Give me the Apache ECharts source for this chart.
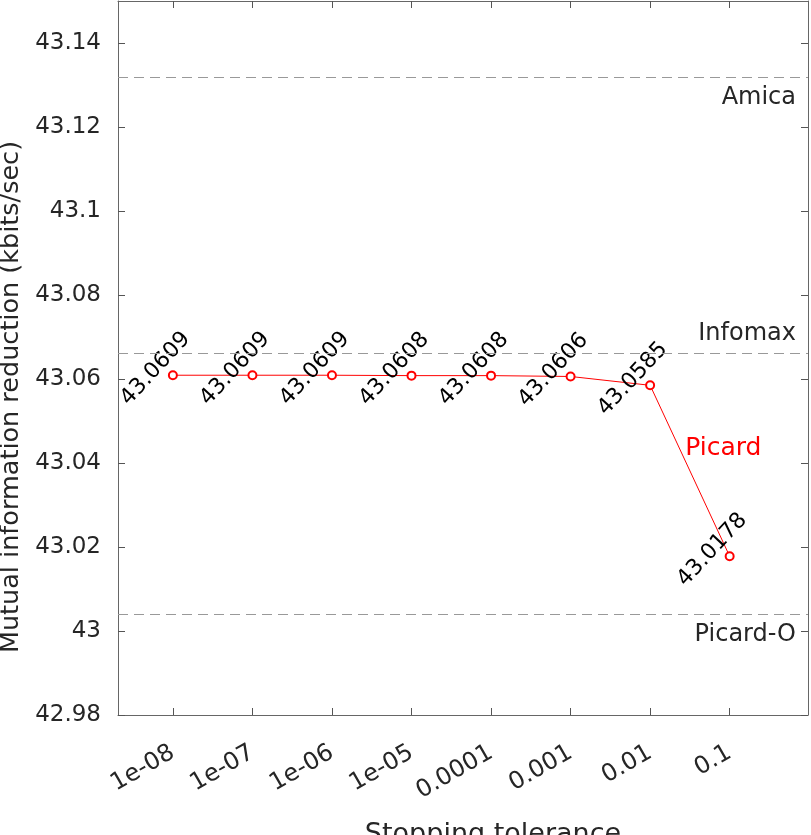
<!DOCTYPE html>
<html>
<head>
<meta charset="utf-8">
<script src="https://cdn.jsdelivr.net/npm/echarts@6/dist/echarts.min.js"></script>
<style>
  html, body { margin: 0; padding: 0; background: #fff; }
  #chart { width: 811px; height: 835px; }
</style>
</head>
<body>
<div id="chart"></div>
<script>
// data
var tolerances = [1e-8, 1e-7, 1e-6, 1e-5, 1e-4, 1e-3, 1e-2, 1e-1];
var tolLabels = ['1e-08', '1e-07', '1e-06', '1e-05', '0.0001', '0.001', '0.01', '0.1'];
var picardValues = [43.0609, 43.0609, 43.0609, 43.0608, 43.0608, 43.0606, 43.0585, 43.0178];
var yTicks = [42.98, 43, 43.02, 43.04, 43.06, 43.08, 43.1, 43.12, 43.14];
var refNames = ['Amica', 'Infomax', 'Picard-O'];
var refValues = [43.1318, 43.0661, 43.0039];
var picardNamePos = [-1.08, 43.0434];

(function(){
    var myChart = echarts.init(document.getElementById('chart'))
    var font = 'DejaVu Sans'
    var xTicks = tolerances.map(function(t){ return Math.log10(t) })
    var seriesData = tolerances.map(function(t, i){ return [Math.log10(t), picardValues[i]] })

    var axisLine = { show: true, lineStyle: { color: '#666', width: 1 } }
    var xBase = {
        type: 'value', min: -8.69, max: -0.015,
        axisLine: axisLine,
        splitLine: { show: false },
        axisTick: { show: true, inside: true, length: 7, customValues: xTicks, lineStyle: { color: '#555', width: 1 } }
    }
    var yBase = {
        type: 'value', min: 42.98, max: 43.15,
        axisLine: axisLine,
        splitLine: { show: false },
        axisTick: { show: true, inside: true, length: 7, customValues: yTicks, lineStyle: { color: '#555', width: 1 } }
    }

    // 参考线 (dashed)
    var refLines = refNames.map(function(n, i){
        return {
            name: n, yAxis: refValues[i],
            label: { position: i === 1 ? 'insideEndTop' : 'insideEndBottom' }
        }
    })

    var option = {
        animation: false,
        grid: { left: 118, top: 1, right: 3, bottom: 120, containLabel: false, outerBoundsMode: 'none' },
        xAxis: [
            Object.assign({}, xBase, {
                position: 'bottom',
                name: 'Stopping tolerance',
                nameLocation: 'middle',
                nameGap: 106,
                nameMoveOverlap: false,
                nameTextStyle: { fontFamily: font, fontSize: 27, color: '#262626', padding: [0, 0, 0, 60] },
                axisLabel: {
                    show: true, rotate: 30, margin: 36,
                    customValues: xTicks,
                    fontFamily: font, fontSize: 24, color: '#262626',
                    formatter: function(v){ return tolLabels[xTicks.indexOf(v)] }
                }
            }),
            Object.assign({}, xBase, { position: 'top', axisLabel: { show: false } })
        ],
        yAxis: [
            Object.assign({}, yBase, {
                position: 'left',
                name: 'Mutual information reduction (kbits/sec)',
                nameLocation: 'middle',
                nameGap: 86,
                nameTextStyle: { fontFamily: font, fontSize: 25.5, color: '#262626', padding: [0, 78, 0, 0] },
                axisLabel: {
                    show: true, margin: 17,
                    customValues: yTicks,
                    fontFamily: font, fontSize: 23, color: '#262626',
                    formatter: function(v){ return String(v) }
                }
            }),
            Object.assign({}, yBase, { position: 'right', axisLabel: { show: false } })
        ],
        series: [
            {
                name: 'Picard',
                type: 'line',
                data: seriesData,
                symbol: 'emptyCircle',
                symbolSize: 8,
                lineStyle: { color: '#ff0000', width: 1 },
                itemStyle: { color: '#ff0000', borderWidth: 1 },
                label: {
                    show: true,
                    position: 'inside',
                    offset: [-7, -17],
                    rotate: 47,
                    fontFamily: font, fontSize: 22, color: '#000',
                    formatter: function(p){ return String(picardValues[p.dataIndex]) }
                },
                markLine: {
                    silent: true,
                    symbol: 'none',
                    precision: 4,
                    lineStyle: { color: '#999', type: [10, 6], width: 1 },
                    label: {
                        show: true,
                        formatter: '{b}',
                        fontFamily: font, fontSize: 24, color: '#262626',
                        distance: [12, 8]
                    },
                    data: refLines
                },
                markPoint: {
                    silent: true,
                    symbol: 'circle',
                    symbolSize: 0,
                    label: {
                        show: true, position: 'inside',
                        formatter: 'Picard',
                        fontFamily: font, fontSize: 25, color: '#ff0000'
                    },
                    data: [{ coord: picardNamePos }]
                }
            }
        ]
    }
    myChart.setOption(option)
})();
</script>
</body>
</html>
